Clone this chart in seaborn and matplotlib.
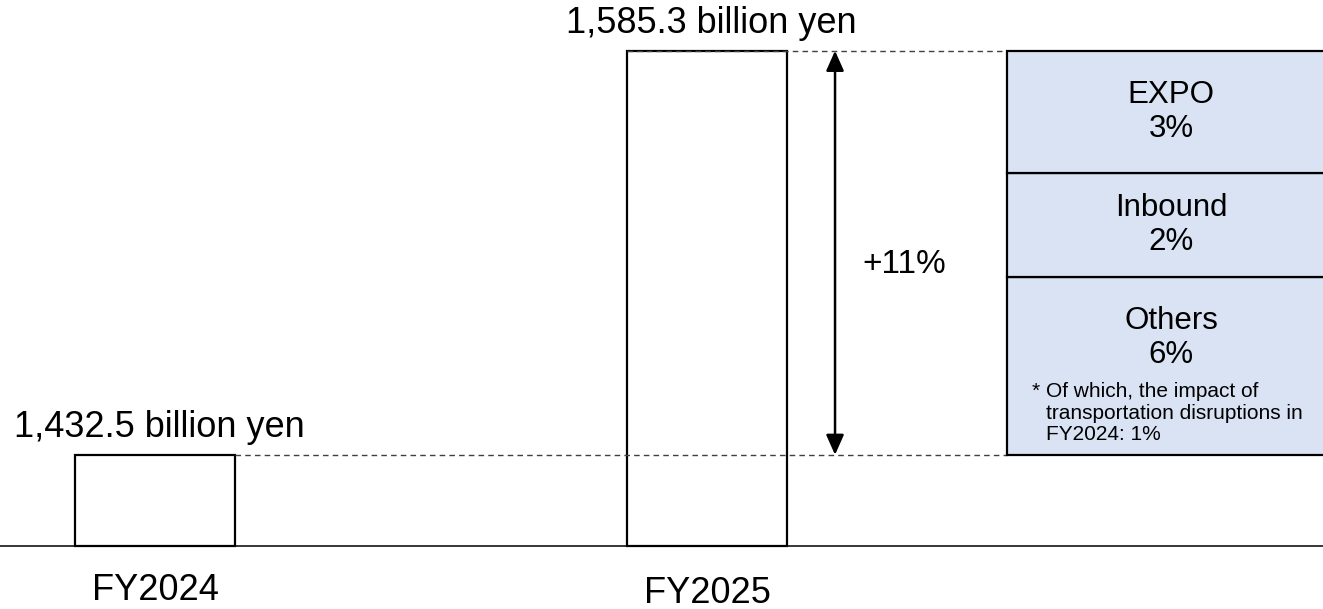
import numpy as np
import pandas as pd
import seaborn as sns
import matplotlib
matplotlib.use("Agg")
import matplotlib.pyplot as plt

# data
years = ["FY2024", "FY2025"]
sales = [1432.5, 1585.3]
value_labels = ["1,432.5 billion yen", "1,585.3 billion yen"]
growth_label = "+11%"
driver_names = ["Others", "Inbound", "EXPO"]
driver_shares = ["6%", "2%", "3%"]
driver_heights = [67.3, 39.3, 46.2]  # drawn box heights (schematic, billion yen)
note_lines = ["Of which, the impact of", "transportation disruptions in", "FY2024: 1%"]
axis_floor = 1398.0  # truncated axis: bars start here

sns.set_theme(style="white")
plt.rcParams["font.family"] = ["Liberation Sans", "DejaVu Sans"]
plt.rcParams["text.color"] = "black"

df = pd.DataFrame({"year": years, "above_floor": np.array(sales) - axis_floor})

fig = plt.figure(figsize=(13.23, 6.09), dpi=100)
ax = fig.add_axes([0, 0, 1, 1])

bar_w = 0.29
sns.barplot(data=df, x="year", y="above_floor", width=bar_w, color="white",
            edgecolor="black", linewidth=1.6, saturation=1, errorbar=None, ax=ax)

ax.set_xlim(-0.281, 2.116)
ax.set_ylim(-23.8, 206.5)
ax.axis("off")

# baseline
ax.axhline(0, color="black", lw=1.1, zorder=1)

h0 = sales[0] - axis_floor
h1 = sales[1] - axis_floor

# value labels and category labels
for i, (v, lab) in enumerate(zip(sales, value_labels)):
    ax.text(i + 0.008, v - axis_floor + 3.6, lab, ha="center", va="bottom",
            fontsize=26)
ax.text(0, -20.4, years[0], ha="center", va="baseline", fontsize=26)
ax.text(1, -21.5, years[1], ha="center", va="baseline", fontsize=26)

# breakdown box
box_x = 1.5435
dash = dict(color="#404040", lw=1.0, linestyle=(0, (4, 3)), zorder=1)
ax.plot([bar_w / 2, box_x], [h0, h0], **dash)
ax.plot([1 - bar_w / 2, box_x], [h1, h1], **dash)

bottom = h0
text_x = 1.8406
for name, share, h in zip(driver_names, driver_shares, driver_heights):
    ax.bar(box_x, h, bottom=bottom, width=0.8, align="edge", color="#dae3f3",
           edgecolor="black", linewidth=1.6, zorder=2)
    if name == "Others":
        ty = bottom + h - 23.1
    else:
        ty = bottom + h / 2
    ax.text(text_x, ty, name + "\n" + share, ha="center", va="center",
            fontsize=22.5, linespacing=1.2, zorder=3)
    if name == "Others":
        ax.text(1.5888, bottom + 24.2, "*", ha="left", va="center", fontsize=15,
                zorder=3)
        ax.text(1.6141, bottom + 15.8, "\n".join(note_lines), ha="left",
                va="center", fontsize=15, linespacing=1.17, zorder=3)
    bottom += h

# growth arrow
ax.annotate("", xy=(1.2319, h1), xytext=(1.2319, h0),
            arrowprops=dict(arrowstyle="<|-|>,head_length=0.45,head_width=0.2",
                            color="black", lw=1.8, mutation_scale=27,
                            shrinkA=0, shrinkB=0))
ax.text(1.2808, 106.3, growth_label, ha="left", va="center", fontsize=24)

fig.savefig("out.png", dpi=100)
